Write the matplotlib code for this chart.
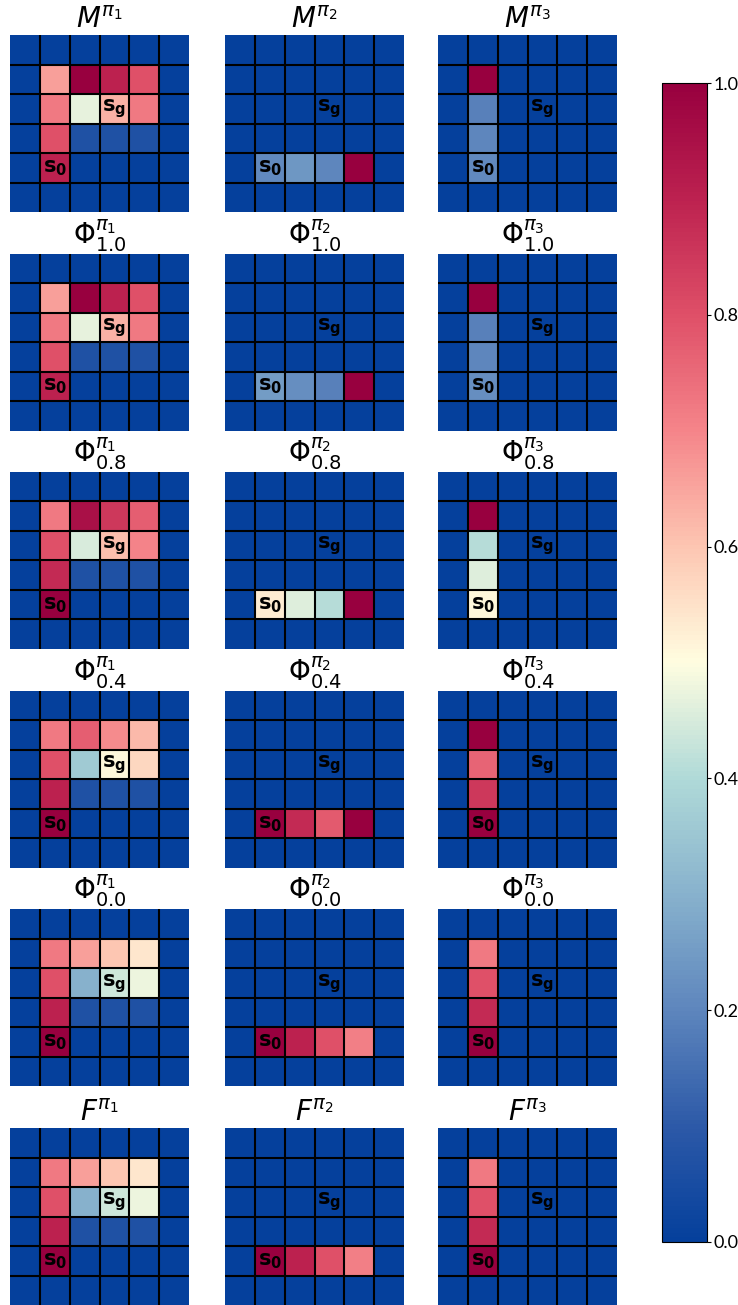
import numpy as np
import matplotlib
matplotlib.use("Agg")
import matplotlib.pyplot as plt
from matplotlib.colors import LinearSegmentedColormap

# Tên các hàng (ma trận) và cột (chính sách)
row_names = ["M", "Phi1.0", "Phi0.8", "Phi0.4", "Phi0.0", "F"]
titles_fmt = [r"$M^{\pi_%d}$", r"$\Phi^{\pi_%d}_{1.0}$", r"$\Phi^{\pi_%d}_{0.8}$",
              r"$\Phi^{\pi_%d}_{0.4}$", r"$\Phi^{\pi_%d}_{0.0}$", r"$F^{\pi_%d}$"]
grid_size = 6
s_goal = (2, 3)   # (hàng, cột)
s_start = (4, 1)

# Các ô khác 0 của từng chính sách và giá trị theo từng hàng
cells_pi1 = [(1, 1), (1, 2), (1, 3), (1, 4), (2, 1), (2, 2), (2, 3), (2, 4),
             (3, 1), (3, 2), (3, 3), (3, 4), (4, 1)]
values_pi1 = [
    [0.66, 1.00, 0.90, 0.80, 0.72, 0.47, 0.63, 0.72, 0.80, 0.07, 0.07, 0.07, 0.90],
    [0.66, 1.00, 0.90, 0.80, 0.72, 0.47, 0.63, 0.72, 0.80, 0.07, 0.07, 0.07, 0.90],
    [0.72, 0.95, 0.85, 0.77, 0.80, 0.45, 0.61, 0.70, 0.88, 0.07, 0.07, 0.07, 1.00],
    [0.72, 0.77, 0.69, 0.62, 0.80, 0.36, 0.51, 0.57, 0.90, 0.07, 0.07, 0.07, 1.00],
    [0.72, 0.66, 0.60, 0.54, 0.80, 0.30, 0.44, 0.48, 0.90, 0.07, 0.07, 0.07, 1.00],
    [0.72, 0.66, 0.60, 0.54, 0.80, 0.30, 0.44, 0.48, 0.90, 0.07, 0.07, 0.07, 1.00],
]

cells_pi2 = [(4, 1), (4, 2), (4, 3), (4, 4)]
values_pi2 = [
    [0.21, 0.24, 0.20, 1.00],
    [0.25, 0.22, 0.19, 1.00],
    [0.53, 0.46, 0.41, 1.00],
    [1.00, 0.88, 0.78, 1.00],
    [1.00, 0.90, 0.80, 0.71],
    [1.00, 0.90, 0.80, 0.71],
]

cells_pi3 = [(1, 1), (2, 1), (3, 1), (4, 1)]
values_pi3 = [
    [1.00, 0.19, 0.20, 0.21],
    [1.00, 0.19, 0.20, 0.22],
    [1.00, 0.41, 0.46, 0.51],
    [1.00, 0.76, 0.85, 1.00],
    [0.72, 0.80, 0.88, 1.00],
    [0.72, 0.80, 0.88, 1.00],
]

policies = [(cells_pi1, values_pi1), (cells_pi2, values_pi2), (cells_pi3, values_pi3)]

# Bảng màu
cmap = LinearSegmentedColormap.from_list("custom", [
    (0.00, "#05409c"), (0.10, "#2d5aa8"), (0.20, "#5e86bd"), (0.30, "#88b2cd"),
    (0.40, "#b0dad8"), (0.50, "#fffde0"), (0.60, "#fdc6b2"), (0.70, "#f5858a"),
    (0.80, "#df5068"), (0.90, "#bd2250"), (1.00, "#98003f")])

W, H = 738, 1305
fig = plt.figure(figsize=(W / 100, H / 100), dpi=100)

col_left = [10, 225, 438]
row_top = [35, 253.6, 472, 690.8, 909.4, 1128]
pw, ph = 179, 177

for r in range(6):
    for c in range(3):
        cells, vals = policies[c]
        Z = np.zeros((grid_size, grid_size))
        for (i, j), v in zip(cells, vals[r]):
            Z[i, j] = v
        ax = fig.add_axes([col_left[c] / W, 1 - (row_top[r] + ph) / H, pw / W, ph / H])
        im = ax.imshow(Z, cmap=cmap, vmin=0, vmax=1, aspect="auto")
        for k in range(1, grid_size):
            ax.axhline(k - 0.5, color="k", lw=1.5)
            ax.axvline(k - 0.5, color="k", lw=1.5)
        ax.text(s_goal[1], s_goal[0], r"$\mathbf{s_g}$", ha="center", va="center",
                fontsize=15, color="k")
        ax.text(s_start[1], s_start[0], r"$\mathbf{s_0}$", ha="center", va="center",
                fontsize=15, color="k")
        ax.set_xticks([])
        ax.set_yticks([])
        for sp in ax.spines.values():
            sp.set_visible(False)
        ax.set_title(titles_fmt[r] % (c + 1), fontsize=20, pad=5)

cax = fig.add_axes([662 / W, 1 - 1242 / H, 45 / W, (1242 - 83) / H])
cb = fig.colorbar(im, cax=cax, ticks=[0, 0.2, 0.4, 0.6, 0.8, 1.0])
cb.outline.set_linewidth(0.8)
cb.ax.tick_params(labelsize=13, length=3, pad=2)
cb.ax.set_yticklabels(["0.0", "0.2", "0.4", "0.6", "0.8", "1.0"], family="Lato")

fig.savefig("out.png", dpi=100)
